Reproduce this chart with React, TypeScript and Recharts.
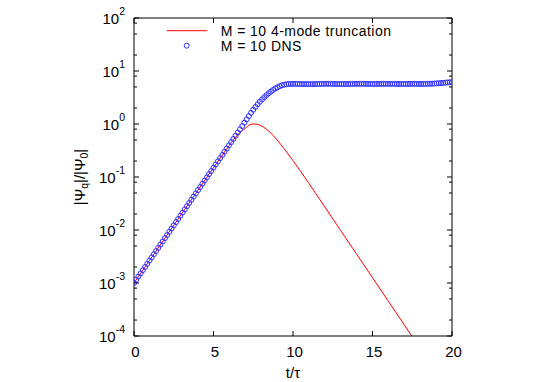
import React from 'react';
import { ComposedChart, Line, Scatter, XAxis, YAxis, ReferenceLine, Legend } from 'recharts';

const FONT = '"Liberation Sans", Arial, Helvetica, sans-serif';

// plot box edges in page pixels (used only for the mirrored tics)
const PLOT_TOP = 18;
const PLOT_RIGHT = 452;

// M = 10 4-mode truncation: t/tau and log10(|Psi_q|/|Psi_0|)
const truncT = [0, 1, 2, 3, 4, 5, 5.5, 6, 6.5, 7, 7.25, 7.5, 7.75, 8, 8.5, 9, 9.5, 10, 11, 12, 13, 14, 15, 16, 17, 17.47];
const truncLog = [
  -3.0, -2.565, -2.13, -1.695, -1.26, -0.825, -0.61, -0.4, -0.21, -0.08, -0.02, 0.0, -0.005, -0.035, -0.14, -0.3,
  -0.49, -0.69, -1.12, -1.565, -2.01, -2.455, -2.9, -3.345, -3.79, -4.0,
];

// M = 10 DNS: log10(|Psi_q|/|Psi_0|), sampled evenly over t/tau = 0..20
const dnsLog = [
  -3.0, -2.94, -2.879, -2.819, -2.758, -2.698, -2.638, -2.577, -2.517, -2.456,
  -2.396, -2.336, -2.275, -2.215, -2.154, -2.094, -2.034, -1.973, -1.913, -1.852,
  -1.792, -1.731, -1.671, -1.611, -1.55, -1.49, -1.429, -1.369, -1.309, -1.248,
  -1.188, -1.127, -1.067, -1.007, -0.946, -0.886, -0.825, -0.765, -0.704, -0.644,
  -0.584, -0.523, -0.463, -0.402, -0.342, -0.282, -0.221, -0.161, -0.1, -0.04,
  0.025, 0.088, 0.15, 0.21, 0.268, 0.322, 0.373, 0.421, 0.465, 0.506,
  0.544, 0.58, 0.613, 0.643, 0.67, 0.694, 0.714, 0.73, 0.742, 0.75,
  0.754, 0.756,
  0.757, 0.757, 0.756, 0.755, 0.754, 0.753, 0.753, 0.752, 0.752, 0.753,
  0.754, 0.755, 0.756, 0.757, 0.757, 0.758, 0.758, 0.757, 0.757, 0.756,
  0.755, 0.755, 0.754, 0.754, 0.755, 0.755, 0.756, 0.757, 0.757, 0.758,
  0.758, 0.758, 0.757, 0.757, 0.756, 0.756, 0.755, 0.755, 0.756, 0.756,
  0.757, 0.757, 0.758, 0.758, 0.757, 0.757, 0.756, 0.756, 0.755, 0.755,
  0.755, 0.756, 0.756, 0.757, 0.757, 0.757, 0.757, 0.756, 0.756, 0.756,
  0.757, 0.758,
  0.759, 0.761, 0.763, 0.766, 0.769, 0.772, 0.776, 0.78, 0.784, 0.787, 0.79,
];
const DNS_T_END = 20;

const xTicks = [0, 5, 10, 15, 20];
const decades = [-4, -3, -2, -1, 0, 1, 2];
const minorMantissas = [2, 5, 8];

const legendLabels = ['M = 10 4-mode truncation', 'M = 10 DNS'];

const truncData = truncT.map((t, i) => ({ t, v: truncLog[i] }));
const dnsData = dnsLog.map((v, k) => ({ t: (k * DNS_T_END) / (dnsLog.length - 1), v }));

const yTicks: number[] = [];
decades.forEach((d) => {
  yTicks.push(d);
  if (d < 2) minorMantissas.forEach((m) => yTicks.push(d + Math.log10(m)));
});

const XTick = (props: any) => {
  const { x, y, payload } = props;
  return (
    <g>
      <line x1={x} y1={y} x2={x} y2={y - 5} stroke="#000" />
      <line x1={x} y1={PLOT_TOP} x2={x} y2={PLOT_TOP + 5} stroke="#000" />
      <text x={x + 1.5} y={y + 21} textAnchor="middle" fontFamily={FONT} fontSize={15} fill="#000">
        {payload.value}
      </text>
    </g>
  );
};

const YTick = (props: any) => {
  const { x, y, payload } = props;
  const major = Math.abs(payload.value - Math.round(payload.value)) < 1e-9;
  const len = major ? 5 : 3;
  return (
    <g>
      <line x1={x} y1={y} x2={x + len} y2={y} stroke="#000" />
      <line x1={PLOT_RIGHT - len} y1={y} x2={PLOT_RIGHT} y2={y} stroke="#000" />
      {major && (
        <text x={x - 9} y={y + 5.5} textAnchor="end" fontFamily={FONT} fontSize={15} fill="#000">
          10
          <tspan dy={-8.5} fontSize={10.5}>
            {Math.round(payload.value)}
          </tspan>
        </text>
      )}
    </g>
  );
};

const YLabel = (props: any) => {
  const vb = props.viewBox;
  const cx = vb.x + vb.width - 54;
  const cy = vb.y + vb.height / 2;
  return (
    <text
      x={cx}
      y={cy + 5}
      transform={`rotate(-90, ${cx}, ${cy})`}
      textAnchor="middle"
      fontFamily={FONT}
      fontSize={15}
      fill="#000"
    >
      |Ψ
      <tspan dy={3} fontSize={10.5}>q</tspan>
      <tspan dy={-3}>|/|Ψ</tspan>
      <tspan dy={3} fontSize={10.5}>0</tspan>
      <tspan dy={-3}>|</tspan>
    </text>
  );
};

const XLabel = (props: any) => {
  const vb = props.viewBox;
  return (
    <text x={vb.x + vb.width / 2} y={vb.y + 42} textAnchor="middle" fontFamily={FONT} fontSize={15} fill="#000">
      t/τ
    </text>
  );
};

const DnsCircle = (props: any) => (
  <circle cx={props.cx} cy={props.cy} r={2.5} fill="none" stroke="#3030ff" strokeWidth={1} />
);

const LegendBox = () => (
  <svg width={260} height={36} style={{ display: 'block' }}>
    <line x1={6.7} y1={10.7} x2={47.3} y2={10.7} stroke="#ff0000" strokeWidth={1} />
    <text x={60.7} y={15.7} fontFamily={FONT} fontSize={14} letterSpacing={0.45} fill="#000">
      {legendLabels[0]}
    </text>
    <circle cx={26.7} cy={25.7} r={2.5} fill="none" stroke="#3030ff" strokeWidth={1} />
    <text x={60.7} y={30.7} fontFamily={FONT} fontSize={14} letterSpacing={0.45} fill="#000">
      {legendLabels[1]}
    </text>
  </svg>
);

export default function App() {
  return (
    <div style={{ position: 'absolute', left: 0, top: 0 }}>
      <ComposedChart width={545} height={382} margin={{ top: 18, right: 93, bottom: 0, left: 0 }}>
        <XAxis
          type="number"
          dataKey="t"
          domain={[0, 20]}
          ticks={xTicks}
          interval={0}
          allowDataOverflow
          height={46}
          tickSize={0}
          tickMargin={0}
          tickLine={false}
          axisLine={{ stroke: '#000' }}
          tick={<XTick />}
          label={<XLabel />}
        />
        <YAxis
          type="number"
          dataKey="v"
          domain={[-4, 2]}
          ticks={yTicks}
          interval={0}
          allowDataOverflow
          width={134}
          tickSize={0}
          tickMargin={0}
          tickLine={false}
          axisLine={{ stroke: '#000' }}
          tick={<YTick />}
          label={<YLabel />}
        />
        <ReferenceLine y={2} stroke="#000" />
        <ReferenceLine x={20} stroke="#000" />
        <Legend
          layout="horizontal"
          verticalAlign="middle"
          align="center"
          wrapperStyle={{ left: 160, top: 20, width: 260 }}
          content={() => <LegendBox />}
        />
        <Scatter data={dnsData} dataKey="v" shape={<DnsCircle />} isAnimationActive={false} />
        <Line
          data={truncData}
          dataKey="v"
          type="monotone"
          stroke="#ff0000"
          strokeWidth={1}
          dot={false}
          activeDot={false}
          isAnimationActive={false}
        />
      </ComposedChart>
    </div>
  );
}
